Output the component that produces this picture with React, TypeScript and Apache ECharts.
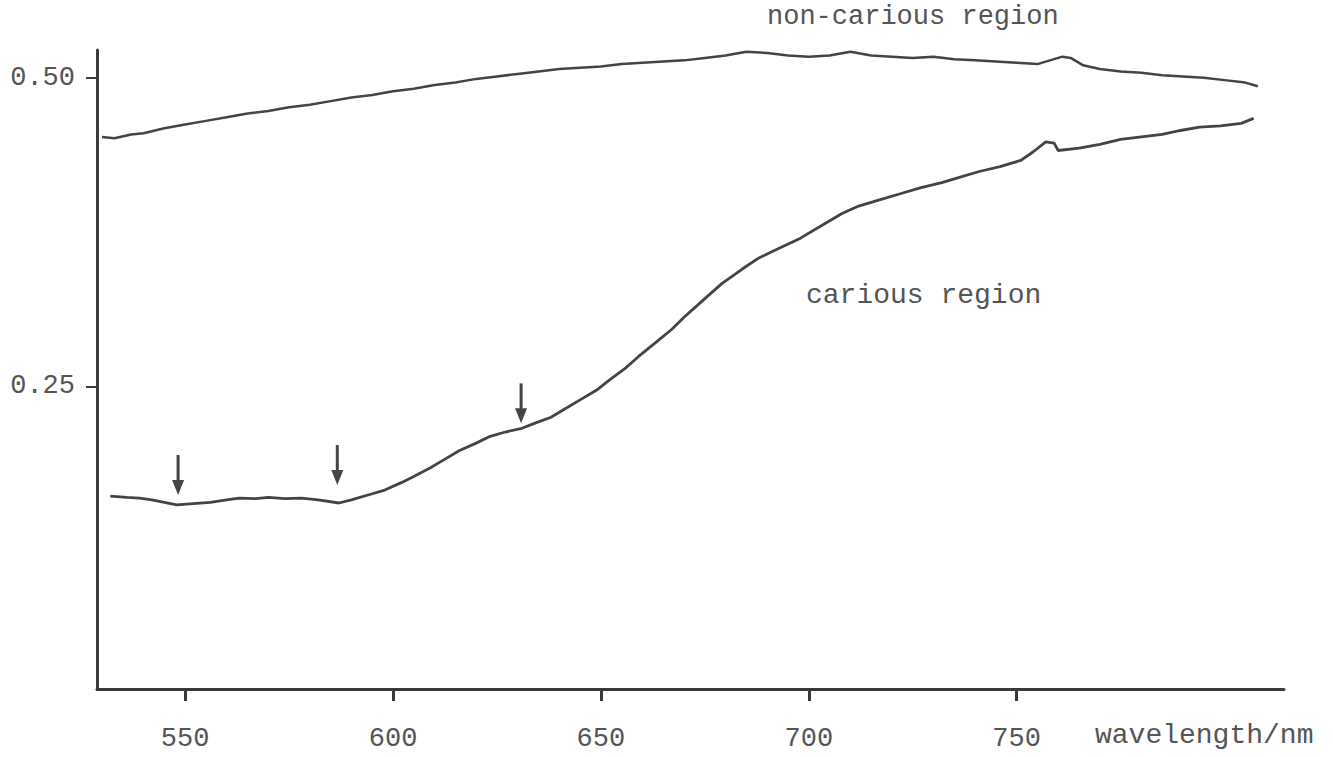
import React, { useEffect, useRef } from "react";
import * as echarts from "echarts";

const xTicks = [550, 600, 650, 700, 750];
const yTicks = [0.25, 0.5];

const nonCarious: [number, number][] = [
  [530, 0.452], [533, 0.451], [537, 0.454], [540, 0.455], [545, 0.459], [550, 0.462],
  [555, 0.465], [560, 0.468], [565, 0.471], [570, 0.473], [575, 0.476], [580, 0.478],
  [585, 0.481], [590, 0.484], [595, 0.486], [600, 0.489], [605, 0.491], [610, 0.494],
  [615, 0.496], [620, 0.499], [625, 0.501], [630, 0.503], [635, 0.505], [640, 0.507],
  [645, 0.508], [650, 0.509], [655, 0.511], [660, 0.512], [665, 0.513], [670, 0.514],
  [675, 0.516], [680, 0.518], [685, 0.521], [690, 0.520], [695, 0.518], [700, 0.517],
  [705, 0.518], [710, 0.521], [715, 0.518], [720, 0.517], [725, 0.516], [730, 0.517],
  [735, 0.515], [740, 0.514], [745, 0.513], [750, 0.512], [755, 0.511], [758, 0.514],
  [761, 0.517], [763, 0.516], [766, 0.510], [770, 0.507], [775, 0.505], [780, 0.504],
  [785, 0.502], [790, 0.501], [795, 0.500], [800, 0.498], [805, 0.496], [808, 0.493],
];

const carious: [number, number][] = [
  [532, 0.161], [536, 0.16], [539, 0.1595], [542, 0.158], [545, 0.156], [548, 0.154],
  [552, 0.155], [556, 0.156], [560, 0.158], [563, 0.1595], [567, 0.159], [570, 0.16],
  [574, 0.159], [578, 0.1595], [582, 0.158], [587, 0.1555], [590, 0.158], [594, 0.162],
  [598, 0.166], [602, 0.172], [605, 0.177], [609, 0.184], [612, 0.19], [616, 0.198],
  [620, 0.204], [623, 0.209], [627, 0.213], [631, 0.216], [634, 0.22], [638, 0.225],
  [641, 0.231], [645, 0.239], [649, 0.247], [652, 0.255], [656, 0.265], [659, 0.274],
  [663, 0.285], [667, 0.296], [670, 0.306], [674, 0.318], [679, 0.333], [684, 0.345],
  [688, 0.354], [693, 0.362], [698, 0.37], [703, 0.38], [708, 0.39], [712, 0.396],
  [717, 0.401], [722, 0.406], [727, 0.411], [732, 0.415], [736, 0.419], [741, 0.424],
  [746, 0.428], [751, 0.433], [754, 0.44], [757, 0.448], [759, 0.447], [760, 0.441],
  [765, 0.443], [770, 0.446], [775, 0.45], [780, 0.452], [785, 0.454], [789, 0.457],
  [794, 0.46], [799, 0.461], [804, 0.463], [807, 0.467],
];

// arrow tips (wavelength, value)
const arrowTips: [number, number][] = [
  [548.3, 0.162],
  [586.6, 0.17],
  [630.8, 0.22],
];

const INK = "#444444";
const TEXT = "#555555";
const FONT = '"Liberation Mono", "DejaVu Sans Mono", monospace';

export default function App() {
  const ref = useRef<HTMLDivElement>(null);
  useEffect(() => {
    if (!ref.current) return;
    const chart = echarts.init(ref.current, undefined, { renderer: "svg" });
    chart.setOption({
      animation: false,
      backgroundColor: "#ffffff",
      grid: { left: 97, right: 49, top: 50, bottom: 68, containLabel: false },
      xAxis: {
        type: "value",
        min: 528.8,
        max: 814.3,
        axisLine: { show: true, lineStyle: { color: "#3a3a3a", width: 3 } },
        axisTick: {
          show: true,
          inside: false,
          length: 12,
          customValues: xTicks,
          lineStyle: { color: "#3a3a3a", width: 3 },
        },
        axisLabel: {
          show: true,
          customValues: xTicks,
          margin: 36,
          color: TEXT,
          fontFamily: FONT,
          fontSize: 27,
        },
        splitLine: { show: false },
      },
      yAxis: {
        type: "value",
        min: 0.00486,
        max: 0.5224,
        axisLine: { show: true, lineStyle: { color: "#3a3a3a", width: 3 } },
        axisTick: {
          show: true,
          inside: false,
          length: 11,
          customValues: yTicks,
          lineStyle: { color: "#3a3a3a", width: 2 },
        },
        axisLabel: {
          show: true,
          customValues: yTicks,
          margin: 22,
          color: TEXT,
          fontFamily: FONT,
          fontSize: 27,
          formatter: (v: number) => v.toFixed(2),
        },
        splitLine: { show: false },
      },
      series: [
        {
          type: "line",
          name: "non-carious region",
          data: nonCarious,
          showSymbol: false,
          smooth: false,
          lineStyle: { color: INK, width: 2.5 },
        },
        {
          type: "line",
          name: "carious region",
          data: carious,
          showSymbol: false,
          smooth: false,
          lineStyle: { color: INK, width: 2.8 },
        },
        {
          type: "custom",
          data: arrowTips,
          renderItem: (_params: any, api: any) => {
            const p = api.coord([api.value(0), api.value(1)]);
            const x = p[0];
            const y = p[1];
            return {
              type: "group",
              children: [
                {
                  type: "line",
                  shape: { x1: x, y1: y - 40, x2: x, y2: y - 12 },
                  style: { stroke: INK, lineWidth: 3 },
                },
                {
                  type: "polygon",
                  shape: { points: [[x - 6, y - 15], [x + 6, y - 15], [x, y]] },
                  style: { fill: INK },
                },
              ],
            };
          },
        },
      ],
      graphic: [
        {
          type: "text",
          left: 767,
          top: 3,
          style: { text: "non-carious region", font: `27px ${FONT}`, fill: TEXT },
        },
        {
          type: "text",
          left: 806,
          top: 281,
          style: { text: "carious region", font: `28px ${FONT}`, fill: TEXT },
        },
        {
          type: "text",
          left: 1095,
          top: 721,
          style: { text: "wavelength/nm", font: `28px ${FONT}`, fill: TEXT },
        },
      ],
    });
    return () => chart.dispose();
  }, []);
  return (
    <div
      ref={ref}
      style={{ position: "absolute", left: 0, top: 0, width: 1333, height: 757, background: "#fff" }}
    />
  );
}
